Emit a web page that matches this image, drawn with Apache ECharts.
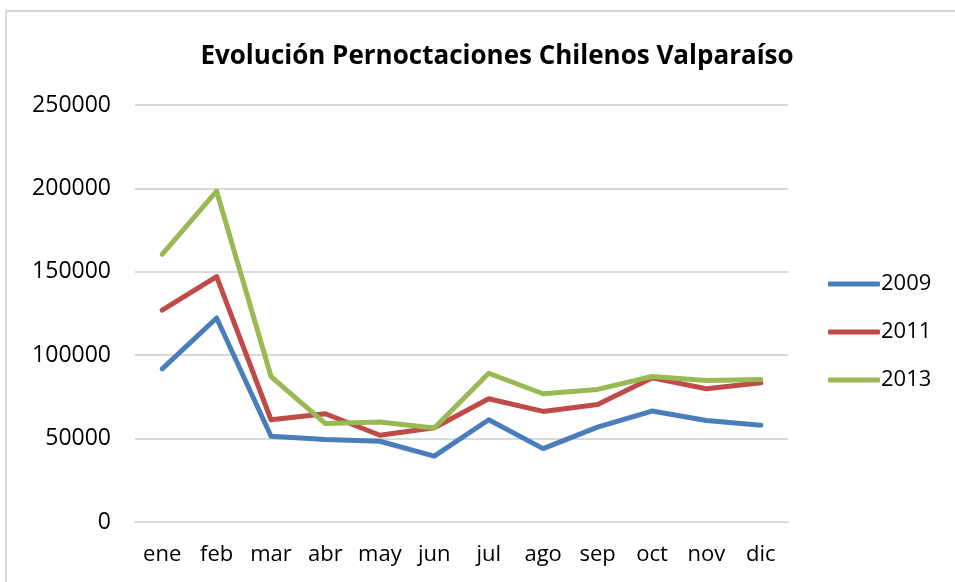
<!DOCTYPE html>
<html>
<head>
<meta charset="UTF-8">
<title>Evolución Pernoctaciones Chilenos Valparaíso</title>
<script type="text/javascript" src="https://cdn.jsdelivr.net/npm/echarts@6/dist/echarts.min.js"></script>
<style>
	body { margin: 0; background: #fff; }
	#chartmain { position: absolute; left: 5px; top: 10px; width: 960px; height: 580px; border: 2px solid #d9d9d9; box-sizing: border-box; }
</style>
</head>
<body>
	<div id="chartmain"></div>
<script type="text/javascript">
	// meses
	var meses = ['ene', 'feb', 'mar', 'abr', 'may', 'jun', 'jul', 'ago', 'sep', 'oct', 'nov', 'dic'];
	// pernoctaciones por año
	var datos2009 = [91800, 122300, 51400, 49400, 48400, 39500, 61300, 44000, 56900, 66500, 60900, 58000];
	var datos2011 = [127000, 147100, 61300, 64900, 52000, 56500, 73900, 66300, 70500, 86400, 79900, 83500];
	var datos2013 = [160500, 198300, 87200, 59000, 59900, 56300, 89200, 76900, 79500, 87200, 84800, 85400];

	var myChart = echarts.init(document.getElementById('chartmain'));
	var fuente = 'Open Sans';
	myChart.setOption({
		animation: false,
		title: {
			text: 'Evolución Pernoctaciones Chilenos Valparaíso',
			left: 485,
			top: 27,
			textAlign: 'center',
			textStyle: { fontFamily: fuente, fontSize: 26, fontWeight: 'bold', color: '#000' }
		},
		legend: {
			orient: 'vertical',
			left: 816,
			top: 256,
			itemWidth: 52,
			itemHeight: 5,
			itemGap: 26,
			icon: 'roundRect',
			textStyle: { fontFamily: fuente, fontSize: 22, color: '#000', padding: [0, 0, 0, -4] },
			data: ['2009', '2011', '2013']
		},
		grid: { left: 128, right: 175, top: 93, bottom: 66 },
		xAxis: {
			type: 'category',
			data: meses,
			axisLine: { lineStyle: { color: '#d9d9d9', width: 2 } },
			axisTick: { show: false },
			axisLabel: { interval: 0, fontFamily: fuente, fontSize: 22, color: '#000', margin: 22 }
		},
		yAxis: {
			type: 'value',
			min: 0,
			max: 250000,
			interval: 50000,
			axisLine: { show: false },
			axisTick: { show: false },
			axisLabel: { fontFamily: fuente, fontSize: 23, color: '#000', margin: 24, formatter: function (v) { return String(v); } },
			splitLine: { lineStyle: { color: '#d9d9d9', width: 2 } }
		},
		series: [
			{ name: '2009', type: 'line', data: datos2009, symbol: 'none', color: '#4a7ebb', lineStyle: { width: 5, cap: 'round', join: 'round' } },
			{ name: '2011', type: 'line', data: datos2011, symbol: 'none', color: '#be4b48', lineStyle: { width: 5, cap: 'round', join: 'round' } },
			{ name: '2013', type: 'line', data: datos2013, symbol: 'none', color: '#98b954', lineStyle: { width: 5, cap: 'round', join: 'round' } }
		]
	});
</script>
</body>
</html>
